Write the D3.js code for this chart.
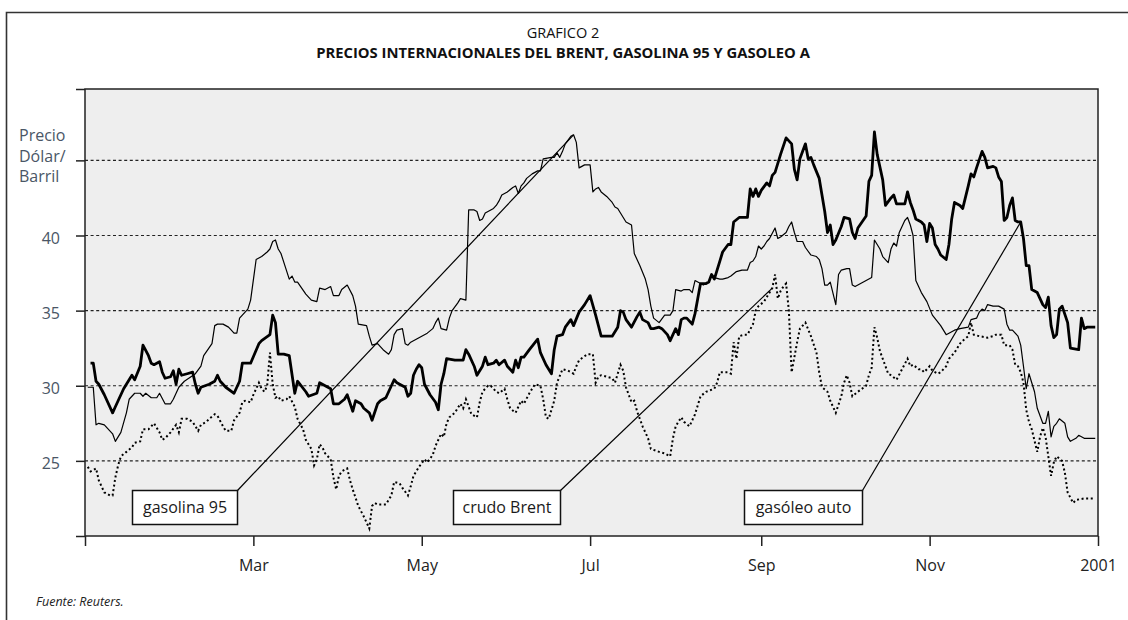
<!DOCTYPE html>
<html>
<head>
<meta charset="utf-8">
<script src="https://cdn.jsdelivr.net/npm/d3@7"></script>
<style>
body { margin: 0; background: #fff; }
svg { display: block; }
text { font-family: "Open Sans", sans-serif; }
</style>
</head>
<body>
<svg id="chart"></svg>
<script>
// day of year 2000 (1 = 1 Jan) and price in $/barril
var gasolinaDay = [1,3,4,5,7,8,10,11,13,15,16,18,20,21,22,24,26,27,29,31,32,34,36,40,42,43,46,47,48,50,52,54,55,56,57,59,60,62,64,66,67,68,69,70,71,74,75,76,77,80,82,84,85,87,89,90,92,93,95,97,98,99,102,103,104,106,108,110,111,112,113,115,116,117,118,120,122,124,126,127,128,129,131,132,133,135,136,138,139,141,142,143,144,145,146,148,149,150,151,153,155,156,157,158,159,160,162,164,165,166,169,170,171,172,173,174,176,177,178,179,181,183,184,185,186,187,189,191,192,193,195,196,198,199,201,203,204,205,206,208,210,212,213,214,216,217,219,220,221,222,224,226,227,228,230,231,233,234,236,238,240,241,242,243,244,245,246,247,248,250,251,252,254,255,256,257,258,260,261,263,265,266,267,268,269,270,272,273,274,276,277,278,279,281,283,285,286,288,289,291,292,293,294,295,297,298,299,300,301,303,305,307,310,312,313,315,317,320,321,323,324,325,326,327,329,331,333,334,335,336,338,339,340,341,342,344,345,347,348,349,350,351,352,353,355,356,357,359,360,362,366]
var gasolinaVal = [29.9,29.9,27.4,27.5,27.4,27.2,26.8,26.3,26.9,28.2,29.1,29.5,29.5,29.3,29.5,29.2,29.2,29.5,28.8,28.8,29.1,29.9,30.3,30.8,31.3,32.0,32.8,34.0,34.1,34.1,33.9,33.5,33.5,34.5,34.7,35.1,35.7,38.4,38.6,38.9,39.1,39.6,39.7,39.1,38.8,37.1,37.3,36.9,36.9,36.1,35.7,35.6,36.5,36.4,36.6,36.0,36.0,36.4,36.7,36.0,35.3,34.1,34.0,33.3,32.7,32.8,32.4,32.1,32.4,33.4,33.7,33.8,32.8,32.7,32.9,33.1,33.3,33.5,33.8,34.2,34.5,33.8,33.7,34.5,35.0,35.5,35.8,35.7,41.7,41.7,41.6,41.0,41.1,41.5,41.6,41.8,42.0,42.3,42.7,42.9,43.2,43.3,42.8,43.3,43.5,43.8,44.1,44.3,44.3,45.1,45.2,45.2,45.5,45.2,45.6,46.1,46.6,46.7,46.2,44.5,44.7,44.7,42.9,43.1,43.2,42.9,42.6,42.2,41.9,41.8,41.2,40.9,40.7,38.8,38.0,37.1,36.4,35.3,34.5,34.2,34.7,34.7,35.0,36.4,36.3,36.4,36.4,36.2,37.0,36.9,36.7,36.9,37.4,37.2,37.1,37.1,37.2,37.3,37.6,37.7,37.7,38.2,38.3,38.6,39.3,39.1,39.3,39.6,39.8,40.5,39.8,39.9,40.2,40.6,40.9,40.2,39.6,39.6,39.2,38.7,38.6,38.4,37.8,36.7,36.7,36.9,35.4,37.4,37.7,37.8,37.8,36.7,36.6,36.8,37.0,37.2,39.7,39.1,38.6,38.2,39.1,39.5,39.3,40.2,41.0,41.2,40.7,40.0,37.0,36.2,35.6,34.7,34.0,33.4,33.5,33.7,33.8,33.9,34.4,34.5,34.9,35.1,35.0,35.4,35.3,35.3,35.1,34.1,33.7,33.7,33.3,32.7,31.3,29.8,30.8,29.6,28.5,27.5,27.5,28.3,26.6,27.3,27.5,27.8,27.5,26.6,26.3,26.5,26.7,26.5,26.5]

var brentDay = [1,2,4,5,7,9,10,11,12,13,15,17,18,20,21,23,25,27,28,29,31,33,34,35,37,39,41,42,44,45,47,48,50,51,53,54,56,57,58,60,61,63,64,65,66,67,68,69,70,71,73,74,76,77,79,80,82,83,84,85,86,87,89,90,91,92,93,95,96,97,99,101,103,104,105,106,109,111,112,114,115,117,118,119,121,123,124,126,127,129,130,131,132,134,136,137,138,139,140,142,143,144,146,147,149,150,152,153,154,156,158,159,161,163,165,166,167,168,170,171,173,175,177,178,179,182,184,185,186,187,189,191,192,194,195,196,198,199,200,202,204,205,208,210,212,213,214,216,217,219,221,223,225,228,229,230,233,234,235,236,237,239,240,242,243,244,246,247,249,250,251,252,253,254,255,256,257,258,259,261,263,265,266,267,269,270,272,274,275,276,277,278,280,283,284,285,286,287,288,289,291,292,294,296,298,299,300,302,303,304,306,307,309,310,312,313,315,316,317,318,320,321,322,324,327,329,330,332,333,335,336,337,338,339,340,341,342,343,345,346,347,348,349,350,351,352,354,355,356,358,359,362,366]
var brentVal = [24.6,24.3,24.5,23.7,22.9,22.7,22.7,23.9,24.7,25.3,25.6,25.9,26.2,26.3,27.1,27.1,27.5,26.9,26.4,26.5,26.9,27.4,26.9,27.8,27.8,27.6,27.0,27.4,27.6,27.8,28.1,28.0,27.3,27.0,27.0,27.7,28.2,28.9,29.0,28.9,29.4,30.2,29.8,29.6,30.0,32.2,30.1,29.2,29.3,29.0,29.1,29.3,28.6,27.8,27.1,26.4,25.8,24.7,25.1,26.1,25.9,25.5,25.1,23.9,23.1,24.0,24.3,24.5,23.7,23.1,22.0,21.3,20.5,22.0,22.2,22.1,22.1,22.7,23.6,23.5,23.2,22.7,23.3,24.0,24.6,25.1,24.9,25.4,26.0,26.8,26.6,27.5,27.9,28.2,28.8,28.5,29.1,28.6,28.1,27.9,28.9,29.6,30.0,30.0,29.6,29.5,29.8,29.1,28.5,28.2,29.0,28.8,29.5,30.1,30.0,29.1,27.9,27.8,29.0,30.2,31.1,31.0,30.8,31.3,31.7,32.1,32.1,30.2,30.6,30.7,30.6,30.5,30.2,31.4,31.0,29.9,28.9,29.0,28.3,27.3,26.5,25.8,25.6,25.5,25.3,26.5,27.3,27.9,27.6,27.3,28.1,29.3,29.6,29.8,30.2,30.9,30.9,30.8,32.9,31.8,33.3,33.4,33.4,34.1,35.0,35.3,35.6,35.9,36.5,37.4,35.8,36.3,36.6,36.8,35.0,30.9,31.9,32.9,33.8,34.2,33.3,32.2,30.9,29.9,29.6,29.0,28.2,29.3,30.2,30.7,30.2,29.3,29.6,30.0,30.7,31.2,33.9,33.2,32.3,31.8,30.8,30.7,30.4,31.1,31.8,31.3,31.4,31.1,31.1,30.9,31.3,31.0,30.8,30.9,31.3,31.8,32.2,32.5,32.8,33.0,33.3,34.2,33.4,33.3,33.2,33.3,33.4,33.4,32.7,32.7,32.4,31.4,31.3,30.9,30.2,28.4,27.6,27.1,25.6,26.6,27.2,26.6,25.3,24.0,24.9,25.3,25.0,24.2,22.9,22.2,22.4,22.5,22.5]

var gasoleoDay = [2,3,4,5,7,10,11,12,14,17,18,20,21,23,24,25,27,28,29,31,32,33,34,35,37,39,40,41,42,45,47,48,49,51,54,56,57,60,63,64,67,68,69,70,72,74,76,77,80,81,84,85,89,90,92,94,95,97,98,100,101,103,104,106,107,109,110,112,113,116,117,118,119,120,121,122,123,125,127,128,129,130,131,134,137,138,139,141,142,144,145,146,148,149,150,152,153,155,156,157,158,159,161,164,165,167,169,170,171,173,174,176,177,179,181,183,185,186,187,191,193,194,195,196,198,200,201,202,204,205,206,208,209,211,212,214,215,216,217,218,220,221,222,223,225,226,227,228,229,230,231,233,234,235,237,238,240,241,242,243,244,245,247,248,249,250,251,252,254,256,257,258,259,260,261,262,263,264,266,267,268,269,270,271,272,274,275,277,278,279,280,283,284,285,286,287,289,290,292,293,294,297,298,299,300,301,303,304,305,306,307,308,309,310,312,313,314,315,317,318,320,321,322,323,325,326,327,329,330,331,332,333,334,335,336,337,338,339,340,341,342,343,345,346,347,348,349,350,351,352,353,354,356,357,360,361,362,363,366]
var gasoleoVal = [31.5,31.5,30.3,30.1,29.4,28.2,28.6,29.0,29.8,30.7,30.4,31.3,32.7,32.0,31.5,31.4,31.6,30.9,30.5,30.6,31.0,30.1,31.1,30.7,30.8,30.9,30.1,29.5,29.9,30.1,30.3,30.7,30.3,29.9,29.5,30.3,31.5,31.5,32.8,33.0,33.4,34.7,34.2,32.1,32.1,32.0,29.5,30.3,29.6,29.3,29.5,30.2,29.8,28.8,28.8,29.1,29.4,28.3,29.0,28.8,28.5,28.2,27.7,28.8,29.0,29.2,29.6,30.4,30.2,29.9,29.3,29.5,30.7,31.1,31.4,31.2,30.1,29.4,28.9,28.4,30.1,30.8,31.8,31.7,31.7,32.4,32.1,31.3,30.7,31.3,31.9,31.4,31.5,31.7,31.4,31.7,31.3,30.9,31.7,31.2,31.9,31.9,32.4,33.1,32.2,31.4,30.8,32.4,33.3,33.4,33.9,34.4,34.0,34.9,35.4,36.0,34.7,34.0,33.3,33.3,33.9,35.0,34.9,34.4,33.9,34.6,34.9,34.4,34.2,33.8,33.8,33.9,33.8,33.4,33.0,33.8,33.4,34.4,34.5,34.5,34.1,34.8,35.8,36.8,36.8,36.9,37.4,37.1,37.7,38.3,38.9,39.4,39.4,40.9,41.2,41.2,41.2,43.1,42.6,43.1,42.6,43.0,43.5,43.3,44.0,44.2,44.8,45.4,46.5,46.1,44.4,43.7,45.1,45.6,46.1,45.1,45.2,44.7,43.8,42.7,41.6,40.2,40.7,39.4,39.7,40.6,41.2,41.1,40.2,39.8,40.5,41.3,43.6,44.0,46.9,45.4,43.7,42.0,42.5,42.7,42.1,42.1,42.9,42.2,41.7,41.1,40.9,40.7,39.6,40.8,40.5,39.4,39.1,38.7,38.4,39.4,41.1,42.2,42.0,41.8,43.3,44.1,43.9,44.5,45.6,45.2,44.5,44.6,44.5,43.9,43.6,41.0,41.2,42.0,42.5,41.0,40.9,40.9,39.8,38.0,38.0,36.4,36.2,35.8,35.4,35.2,35.9,34.0,33.2,33.4,35.1,35.3,34.2,32.5,32.4,34.5,33.8,33.9,33.9]

var yGrid = [25, 30, 35, 40, 45]
var yTickLabels = ["", "25", "30", "35", "40", "", ""]
var xTickLabels = ["", "Mar", "May", "Jul", "Sep", "Nov", "2001"]
var labelNames = ["gasolina 95", "crudo Brent", "gasóleo auto"]
var labelDays = [177, 249, 339]

var width = 1128, height = 620
var plot = {left: 85, top: 89, right: 1098, bottom: 536}
var ink = "#222"

var svg = d3.select("#chart").attr("width", width).attr("height", height)

var start = new Date(1999, 11, 31)
function toDate(d) { return d3.timeDay.offset(start, d) }

var x = d3.scaleTime()
    .domain([start, new Date(2001, 0, 1)])
    .range([plot.left, plot.right])
var y = d3.scaleLinear()
    .domain([20, 49.75])
    .range([plot.bottom, plot.top])

function makeSeries(days, vals) {
    return days.map(function(d, i) { return {date: toDate(d), v: vals[i]} })
}
var gasolina = makeSeries(gasolinaDay, gasolinaVal)
var brent = makeSeries(brentDay, brentVal)
var gasoleo = makeSeries(gasoleoDay, gasoleoVal)

// outer frame (only top and left are visible in the original)
svg.append("path")
    .attr("d", "M6.5,620V12.5H1128")
    .attr("fill", "none").attr("stroke", "#333").attr("stroke-width", 1.6)

// titles
svg.append("text").attr("x", 563).attr("y", 38).attr("text-anchor", "middle")
    .attr("font-size", "14.5px").attr("fill", "#111").text("GRAFICO 2")
svg.append("text").attr("x", 563).attr("y", 58).attr("text-anchor", "middle")
    .attr("font-size", "14.8px").attr("font-weight", "bold").attr("fill", "#111")
    .text("PRECIOS INTERNACIONALES DEL BRENT, GASOLINA 95 Y GASOLEO A")

// plot background
svg.append("rect")
    .attr("x", plot.left).attr("y", plot.top)
    .attr("width", plot.right - plot.left).attr("height", plot.bottom - plot.top)
    .attr("fill", "#eeeeee")

// dotted gridlines
svg.append("g").selectAll("line").data(yGrid).enter().append("line")
    .attr("x1", plot.left).attr("x2", plot.right)
    .attr("y1", function(d) { return y(d) }).attr("y2", function(d) { return y(d) })
    .attr("stroke", ink).attr("stroke-width", 1.2).attr("stroke-dasharray", "3,2.6")

var line = d3.line()
    .x(function(d) { return x(d.date) })
    .y(function(d) { return y(d.v) })

svg.append("path").datum(gasolina).attr("d", line)
    .attr("fill", "none").attr("stroke", "#000").attr("stroke-width", 1.2)
    .attr("stroke-linejoin", "round")
svg.append("path").datum(brent).attr("d", line)
    .attr("fill", "none").attr("stroke", "#000").attr("stroke-width", 2)
    .attr("stroke-dasharray", "2,2.6")
svg.append("path").datum(gasoleo).attr("d", line)
    .attr("fill", "none").attr("stroke", "#000").attr("stroke-width", 2.8)
    .attr("stroke-linejoin", "round")

// label boxes with pointer lines
var boxes = [
    {x: 132.5, w: 105, s: gasolina, day: labelDays[0], name: labelNames[0]},
    {x: 453.5, w: 107, s: brent, day: labelDays[1], name: labelNames[1]},
    {x: 744.5, w: 118, s: gasoleo, day: labelDays[2], name: labelNames[2]}
]
var boxTop = 490.5, boxH = 34
boxes.forEach(function(b) {
    var target = b.s.find(function(p) { return +p.date === +toDate(b.day) })
    svg.append("line")
        .attr("x1", b.x + b.w).attr("y1", boxTop)
        .attr("x2", x(target.date)).attr("y2", y(target.v))
        .attr("stroke", "#000").attr("stroke-width", 1.2)
    svg.append("rect")
        .attr("x", b.x).attr("y", boxTop).attr("width", b.w).attr("height", boxH)
        .attr("fill", "#fff").attr("stroke", "#111").attr("stroke-width", 1.5)
    svg.append("text")
        .attr("x", b.x + b.w / 2).attr("y", boxTop + 22.5)
        .attr("text-anchor", "middle").attr("font-size", "16px").attr("fill", "#1a1a1a")
        .text(b.name)
})

// plot frame
svg.append("rect")
    .attr("x", plot.left).attr("y", plot.top)
    .attr("width", plot.right - plot.left).attr("height", plot.bottom - plot.top)
    .attr("fill", "none").attr("stroke", ink).attr("stroke-width", 1.5)

// axes
var yAxis = d3.axisLeft(y)
    .tickValues([20, 25, 30, 35, 40, 45, 49.75])
    .tickSizeInner(9).tickSizeOuter(0).tickPadding(16)
    .tickFormat(function(d, i) { return yTickLabels[i] })
var gy = svg.append("g").attr("transform", "translate(" + plot.left + ",0)").call(yAxis)
gy.select(".domain").remove()
gy.selectAll("line").attr("stroke", ink).attr("stroke-width", 1.5)
gy.selectAll("text").attr("font-size", "16px").attr("fill", "#4a5666")
    .attr("font-family", "Open Sans").attr("dy", "0.5em")

var xTicks = [start, new Date(2000, 2, 1), new Date(2000, 4, 1), new Date(2000, 6, 1),
    new Date(2000, 8, 1), new Date(2000, 10, 1), new Date(2001, 0, 1)]
var xAxis = d3.axisBottom(x)
    .tickValues(xTicks)
    .tickSizeInner(10).tickSizeOuter(0).tickPadding(14)
    .tickFormat(function(d, i) { return xTickLabels[i] })
var gx = svg.append("g").attr("transform", "translate(0," + plot.bottom + ")").call(xAxis)
gx.select(".domain").remove()
gx.selectAll("line").attr("stroke", ink).attr("stroke-width", 1.5)
gx.selectAll("text").attr("font-size", "16px").attr("fill", "#222").attr("font-family", "Open Sans")

// y unit label
var unit = svg.append("text").attr("font-size", "16px").attr("fill", "#4a5666")
;["Precio", "Dólar/", "Barril"].forEach(function(t, i) {
    unit.append("tspan").attr("x", 19).attr("y", 141 + i * 20.5).text(t)
})

// source
svg.append("text").attr("x", 36).attr("y", 606)
    .attr("font-size", "12.5px").attr("font-style", "italic").attr("fill", "#222")
    .text("Fuente: Reuters.")
</script>
</body>
</html>
